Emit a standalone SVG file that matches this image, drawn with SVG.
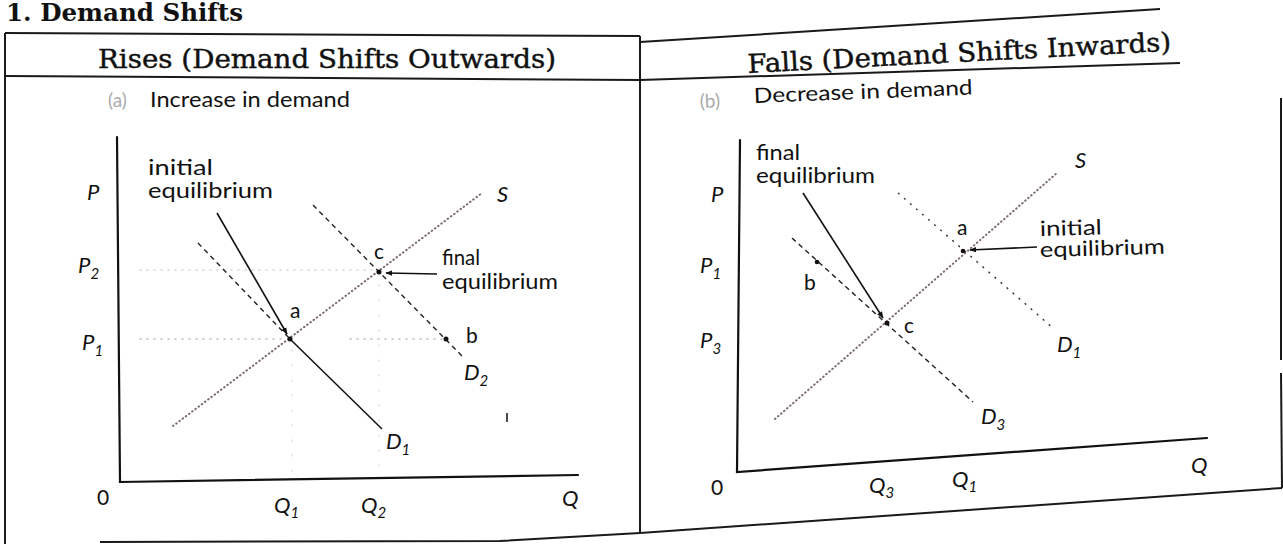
<svg xmlns="http://www.w3.org/2000/svg" width="1283" height="544" viewBox="0 0 1283 544">
<style>
.frame{stroke:#1a1a1a;stroke-width:2;fill:none}
.axis{stroke:#111;stroke-width:2.2;fill:none;stroke-linecap:round}
.supply{stroke:#7d6a6e;stroke-width:2;stroke-dasharray:0.6 3.4;stroke-linecap:round;fill:none}
.dash{stroke:#222;stroke-width:1.4;stroke-dasharray:5 4;fill:none}
.sparse{stroke:#333;stroke-width:1.4;stroke-dasharray:2 6;fill:none}
.solid{stroke:#111;stroke-width:1.5;fill:none}
.guide{stroke:#b8b8b8;stroke-width:1.3;stroke-dasharray:1 6;fill:none;stroke-linecap:round}
.vguide{stroke:#dcdcdc;stroke-width:1.3;stroke-dasharray:1 14;fill:none;stroke-linecap:round}
.ptr{stroke:#111;stroke-width:1.6;fill:none;marker-end:url(#ah)}
.title{font-family:"DejaVu Serif","Liberation Serif",serif;font-weight:bold;font-size:24px;fill:#111}
.head{font-family:"DejaVu Serif","Liberation Serif",serif;font-size:26px;fill:#111;stroke:#111;stroke-width:0.45}
.lbl{font-family:Lato,"Open Sans",sans-serif;font-size:21px;fill:#111}
.it{font-family:Lato,"Open Sans",sans-serif;font-style:italic;font-size:22px;fill:#111}
.sub{font-size:15px}
.faint{font-family:Lato,"Open Sans",sans-serif;font-size:19px;fill:#aaa}
</style>
<defs>
<marker id="ah" viewBox="0 0 10 10" refX="9" refY="5" markerWidth="7" markerHeight="7" orient="auto" markerUnits="userSpaceOnUse">
<path d="M0,1 L10,5 L0,9 Z" fill="#111"/>
</marker>
</defs>
<rect width="1283" height="544" fill="#fff"/>

<g id="frame">
<text class="title" x="6" y="21" textLength="237" lengthAdjust="spacingAndGlyphs">1. Demand Shifts</text>
<polyline class="frame" points="5,33 640,36"/>
<polyline class="frame" points="640,42 1160,9"/>
<polyline class="frame" points="5,76 640,80"/>
<polyline class="frame" points="640,80 1180,63"/>
<line class="frame" x1="5" y1="33" x2="5" y2="544"/>
<line class="frame" x1="640" y1="36" x2="640" y2="533"/>
<polyline class="frame" points="100,542 500,541 640,533"/>
<polyline class="frame" points="640,533 1282,488"/>
<line class="frame" x1="1281" y1="98" x2="1281" y2="360"/>
<line class="frame" x1="1281" y1="373" x2="1282" y2="488"/>
<text class="head" x="98" y="68" textLength="458" lengthAdjust="spacingAndGlyphs">Rises (Demand Shifts Outwards)</text>
<text class="head" x="748" y="73" textLength="424" lengthAdjust="spacingAndGlyphs" transform="rotate(-3 748 73)">Falls (Demand Shifts Inwards)</text>
</g>

<g id="panel-a">
<text class="faint" x="108" y="107">(a)</text>
<text class="lbl" x="150" y="107" textLength="200" lengthAdjust="spacingAndGlyphs">Increase in demand</text>
<g id="axes-a">
<polyline class="axis" points="117,137 120,482 578,475"/>
<text class="it" x="87" y="200">P</text>
<text class="it" x="78" y="273">P<tspan class="sub" dy="6">2</tspan></text>
<text class="it" x="82" y="350">P<tspan class="sub" dy="6">1</tspan></text>
<text class="lbl" x="97" y="505">0</text>
<text class="it" x="274" y="513">Q<tspan class="sub" dy="5">1</tspan></text>
<text class="it" x="361" y="513">Q<tspan class="sub" dy="5">2</tspan></text>
<text class="it" x="562" y="506">Q</text>
</g>
<g id="curves-a">
<line class="guide" x1="140" y1="270" x2="376" y2="270" stroke-opacity="0.6"/>
<line class="guide" x1="140" y1="339" x2="286" y2="339"/>
<line class="guide" x1="350" y1="339" x2="442" y2="339"/>
<line class="vguide" x1="292" y1="350" x2="292" y2="472"/>
<line class="vguide" x1="379" y1="285" x2="379" y2="470"/>
<line class="supply" x1="173" y1="426" x2="482" y2="193"/>
<line class="dash" x1="198" y1="243" x2="290" y2="339"/>
<line class="solid" x1="290" y1="339" x2="382" y2="429"/>
<line class="dash" x1="313" y1="205" x2="463" y2="357"/>
<line class="solid" x1="507" y1="413" x2="507" y2="422"/>
<text class="it" x="497" y="202">S</text>
<text class="it" x="386" y="449">D<tspan class="sub" dy="6">1</tspan></text>
<text class="it" x="464" y="380">D<tspan class="sub" dy="6">2</tspan></text>
</g>
<g id="point-a-a">
<circle cx="290" cy="339" r="2.5" fill="#111"/>
<text class="lbl" x="290" y="318">a</text>
</g>
<g id="point-c-a">
<circle cx="379" cy="272" r="2.5" fill="#111"/>
<text class="lbl" x="374" y="259">c</text>
</g>
<g id="point-b-a">
<circle cx="446" cy="339" r="2.5" fill="#111"/>
<text class="lbl" x="466" y="343">b</text>
</g>
<g id="note-initial-a">
<text class="lbl" x="148" y="175" textLength="65" lengthAdjust="spacingAndGlyphs">initial</text>
<text class="lbl" x="148" y="198" textLength="125" lengthAdjust="spacingAndGlyphs">equilibrium</text>
</g>
<g id="note-final-a">
<text class="lbl" x="442" y="265" textLength="38" lengthAdjust="spacingAndGlyphs">final</text>
<text class="lbl" x="442" y="289" textLength="116" lengthAdjust="spacingAndGlyphs">equilibrium</text>
</g>
</g>

<g id="panel-b">
<text class="faint" x="700" y="108" transform="rotate(-2 700 108)">(b)</text>
<text class="lbl" x="754" y="103" textLength="219" lengthAdjust="spacingAndGlyphs" transform="rotate(-2.2 754 103)">Decrease in demand</text>
<g id="axes-b">
<polyline class="axis" points="740,140 737,472 1207,438"/>
<text class="it" x="711" y="202">P</text>
<text class="it" x="700" y="273">P<tspan class="sub" dy="6">1</tspan></text>
<text class="it" x="700" y="348">P<tspan class="sub" dy="6">3</tspan></text>
<text class="lbl" x="711" y="495">0</text>
<text class="it" x="869" y="493">Q<tspan class="sub" dy="5">3</tspan></text>
<text class="it" x="952" y="487">Q<tspan class="sub" dy="5">1</tspan></text>
<text class="it" x="1191" y="473">Q</text>
</g>
<g id="curves-b">
<line class="supply" x1="775" y1="419" x2="1057" y2="173"/>
<line class="sparse" x1="898" y1="193" x2="1053" y2="328"/>
<line class="dash" x1="792" y1="238" x2="973" y2="402"/>
<text class="it" x="1075" y="168">S</text>
<text class="it" x="1057" y="352">D<tspan class="sub" dy="6">1</tspan></text>
<text class="it" x="981" y="424">D<tspan class="sub" dy="6">3</tspan></text>
</g>
<g id="point-a-b">
<circle cx="963" cy="251" r="2.3" fill="#111"/>
<text class="lbl" x="957" y="235">a</text>
</g>
<g id="point-b-b">
<circle cx="817" cy="262" r="2.3" fill="#111"/>
<text class="lbl" x="804" y="290">b</text>
</g>
<g id="point-c-b">
<circle cx="887" cy="323" r="2.5" fill="#111"/>
<text class="lbl" x="904" y="333">c</text>
</g>
<g id="note-final-b">
<text class="lbl" x="756" y="160" textLength="44" lengthAdjust="spacingAndGlyphs">final</text>
<text class="lbl" x="756" y="183" textLength="119" lengthAdjust="spacingAndGlyphs">equilibrium</text>
</g>
<g id="note-initial-b">
<text class="lbl" x="1040" y="236" textLength="62" lengthAdjust="spacingAndGlyphs" transform="rotate(-1.5 1040 236)">initial</text>
<text class="lbl" x="1040" y="257" textLength="125" lengthAdjust="spacingAndGlyphs" transform="rotate(-1.5 1040 257)">equilibrium</text>
</g>
</g>

<g id="connectors">
<line class="ptr" x1="217" y1="213" x2="287" y2="334"/>
<line class="ptr" x1="437" y1="274" x2="386" y2="273"/>
<line class="ptr" x1="803" y1="193" x2="883" y2="318"/>
<line class="ptr" x1="1037" y1="247" x2="970" y2="250"/>
</g>
</svg>
